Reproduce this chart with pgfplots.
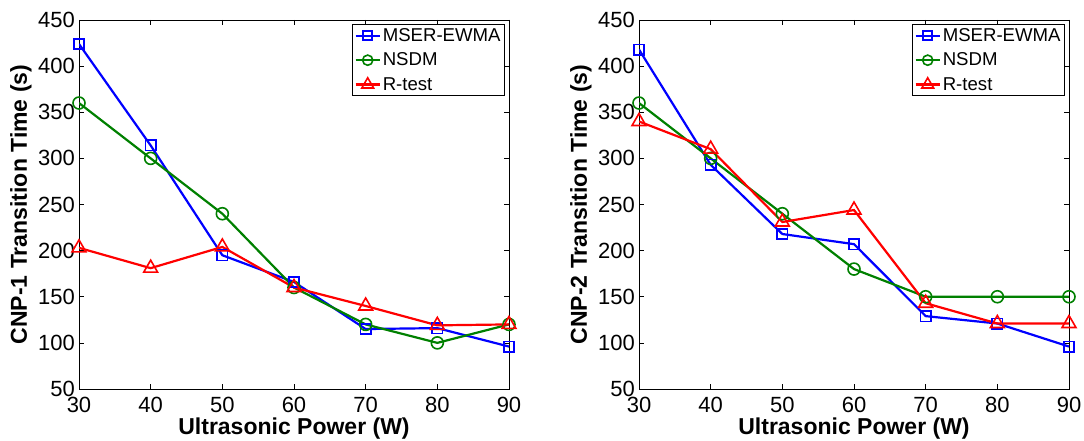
\documentclass[border=0pt]{standalone}
\usepackage{fontspec}
\setmainfont{Liberation Sans}
\usepackage{pgfplots}
\pgfplotsset{compat=1.18}
\definecolor{mblue}{rgb}{0,0,1}
\definecolor{mgreen}{rgb}{0,0.5,0}
\definecolor{mred}{rgb}{1,0,0}
\pgfplotsset{
 mystyle/.style={
  scale only axis, width=430pt, height=369pt,
  xmin=30,xmax=90,ymin=50,ymax=450,
  xtick={30,40,...,90}, ytick={50,100,...,450},
  tick align=inside, major tick length=5pt,
  tick style={black, line width=0.6pt},
  axis line style={line width=0.8pt},
  /pgf/number format/assume math mode=true,
  ticklabel style={font=\fontsize{22}{22}\selectfont},
  yticklabel style={inner sep=0pt, xshift=-4pt},
  xticklabel style={inner sep=0pt, yshift=-8pt},
  label style={font=\fontsize{23}{23}\selectfont\bfseries},
  xlabel style={at={(axis description cs:0.5,-0.106)}, anchor=center},
  ylabel style={at={(axis description cs:-0.135,0.5)}, anchor=center},
  legend style={at={(axis description cs:0.9907,0.989)}, anchor=north east,
    font=\fontsize{18.6}{18.6}\selectfont, draw=black, line width=0.8pt,
    inner sep=2pt, row sep=6pt, cells={anchor=west}},
  legend image code/.code={\draw[mark repeat=2,mark phase=2,/tikz/every mark/.append style={scale=0.85}] plot coordinates {(0pt,0pt)(12pt,0pt)(24pt,0pt)};},
 },
 sb/.style={color=mblue, line width=2.2pt, mark=square, mark size=5.2pt, mark options={solid, line width=1.6pt}},
 sg/.style={color=mgreen, line width=2.2pt, mark=o, mark size=6pt, mark options={solid, line width=1.6pt}},
 sr/.style={color=mred, line width=2.2pt, mark=triangle, mark size=8pt, mark options={solid, line width=1.6pt}},
}
\begin{document}
\begin{tikzpicture}
\useasboundingbox (0,0) rectangle (1084pt,441pt);
\begin{axis}[mystyle, at={(79pt,52pt)}, anchor=south west,
  xlabel={Ultrasonic Power (W)}, ylabel={CNP-1 Transition Time (s)}]
\addplot[sb] coordinates {(30,424)(40,314)(50,195)(60,166)(70,115)(80,116)(90,96)};
\addlegendentry{MSER-EWMA}
\addplot[sg] coordinates {(30,360)(40,300)(50,240)(60,160)(70,120)(80,100)(90,120)};
\addlegendentry{NSDM}
\addplot[sr] coordinates {(30,203)(40,181)(50,204)(60,160)(70,140)(80,119)(90,120)};
\addlegendentry{R-test}
\end{axis}
\begin{axis}[mystyle, at={(639pt,52pt)}, anchor=south west,
  xlabel={Ultrasonic Power (W)}, ylabel={CNP-2 Transition Time (s)}]
\addplot[sb] coordinates {(30,418)(40,293)(50,218)(60,207)(70,129)(80,121)(90,96)};
\addlegendentry{MSER-EWMA}
\addplot[sg] coordinates {(30,360)(40,300)(50,240)(60,180)(70,150)(80,150)(90,150)};
\addlegendentry{NSDM}
\addplot[sr] coordinates {(30,340)(40,310)(50,231)(60,244)(70,143)(80,121)(90,121)};
\addlegendentry{R-test}
\end{axis}
\end{tikzpicture}
\end{document}
